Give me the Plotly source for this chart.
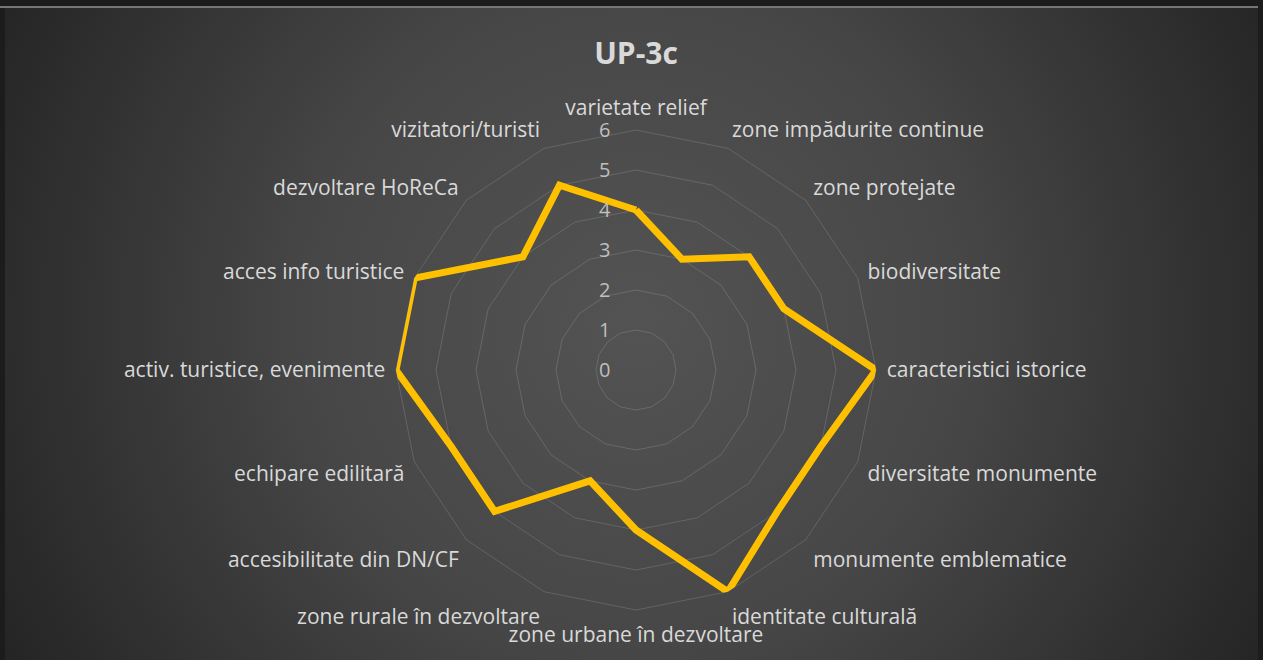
import base64
import plotly.graph_objects as go

# --- data -------------------------------------------------------------
categories = [
    "varietate relief",
    "zone impădurite continue",
    "zone protejate",
    "biodiversitate",
    "caracteristici istorice",
    "diversitate monumente",
    "monumente emblematice",
    "identitate culturală",
    "zone urbane în dezvoltare",
    "zone rurale în dezvoltare",
    "accesibilitate din DN/CF",
    "echipare edilitară",
    "activ. turistice, evenimente",
    "acces info turistice",
    "dezvoltare HoReCa",
    "vizitatori/turisti",
]
scores = [4, 3, 4, 4, 6, 5, 5, 6, 4, 3, 5, 5, 6, 6, 4, 5]
radial_ticks = [0, 1, 2, 3, 4, 5, 6]
chart_title = "UP-3c"

# --- page geometry (pixels) --------------------------------------------
W, H = 1263, 660
cx, cy, R = 636, 370, 240          # centre and outer radius of the radar
area_x0, area_x1, area_y0 = 5, 1258, 8

# radial gradient backdrop for the chart area
svg = f"""<svg xmlns='http://www.w3.org/2000/svg' width='{area_x1-area_x0}' height='{H-area_y0}'
 viewBox='0 0 {area_x1-area_x0} {H-area_y0}' preserveAspectRatio='none'>
<defs><radialGradient id='g' gradientUnits='userSpaceOnUse' cx='{cx-area_x0}' cy='{320-area_y0}' r='720'>
<stop offset='0' stop-color='#535353'/>
<stop offset='0.45' stop-color='#474747'/>
<stop offset='1' stop-color='#242424'/>
</radialGradient></defs>
<rect width='100%' height='100%' fill='url(#g)'/></svg>"""
bg_uri = "data:image/svg+xml;base64," + base64.b64encode(svg.encode()).decode()

closed_cats = categories + categories[:1]
closed_vals = scores + scores[:1]

fig = go.Figure()
fig.add_trace(go.Scatterpolar(
    r=closed_vals,
    theta=closed_cats,
    mode="lines",
    line=dict(color="#FFC000", width=7),
    hoverinfo="r+theta",
    showlegend=False,
))

font_family = "Open Sans, Noto Sans, sans-serif"
grid_col = "rgba(255,255,255,0.14)"

fig.update_layout(
    width=W, height=H,
    margin=dict(l=0, r=0, t=0, b=0),
    paper_bgcolor="#1c1c1c",
    title=dict(
        text=f"<b>{chart_title}</b>",
        x=cx / W, xanchor="center",
        y=1 - 53 / H, yanchor="middle",
        font=dict(family=font_family, size=30, color="#d9d9d9"),
    ),
    polar=dict(
        domain=dict(x=[(cx - R) / W, (cx + R) / W],
                    y=[(H - cy - R) / H, (H - cy + R) / H]),
        bgcolor="rgba(0,0,0,0)",
        gridshape="linear",
        radialaxis=dict(
            range=[0, 6],
            tickvals=radial_ticks,
            angle=90,
            side="counterclockwise",
            tickangle=90,
            showline=False,
            ticks="outside",
            ticklen=18,
            tickcolor="rgba(0,0,0,0)",
            gridcolor=grid_col,
            gridwidth=1,
            tickfont=dict(family=font_family, size=20, color="#bfbfbf"),
        ),
        angularaxis=dict(
            rotation=90,
            direction="clockwise",
            showgrid=False,
            showline=True,
            linecolor=grid_col,
            linewidth=1,
            ticks="outside",
            ticklen=6,
            tickcolor="rgba(0,0,0,0)",
            tickfont=dict(family=font_family, size=21, color="#d9d9d9"),
        ),
    ),
    images=[dict(
        source=bg_uri, xref="paper", yref="paper",
        x=area_x0 / W, y=1 - area_y0 / H,
        sizex=(area_x1 - area_x0) / W, sizey=(H - area_y0) / H,
        xanchor="left", yanchor="top", sizing="stretch", layer="below",
    )],
    shapes=[dict(
        type="line", xref="paper", yref="paper",
        x0=0, x1=area_x1 / W, y0=1 - 7 / H, y1=1 - 7 / H,
        line=dict(color="#d0d0d0", width=1),
    )],
)

fig.write_html("out.html")
